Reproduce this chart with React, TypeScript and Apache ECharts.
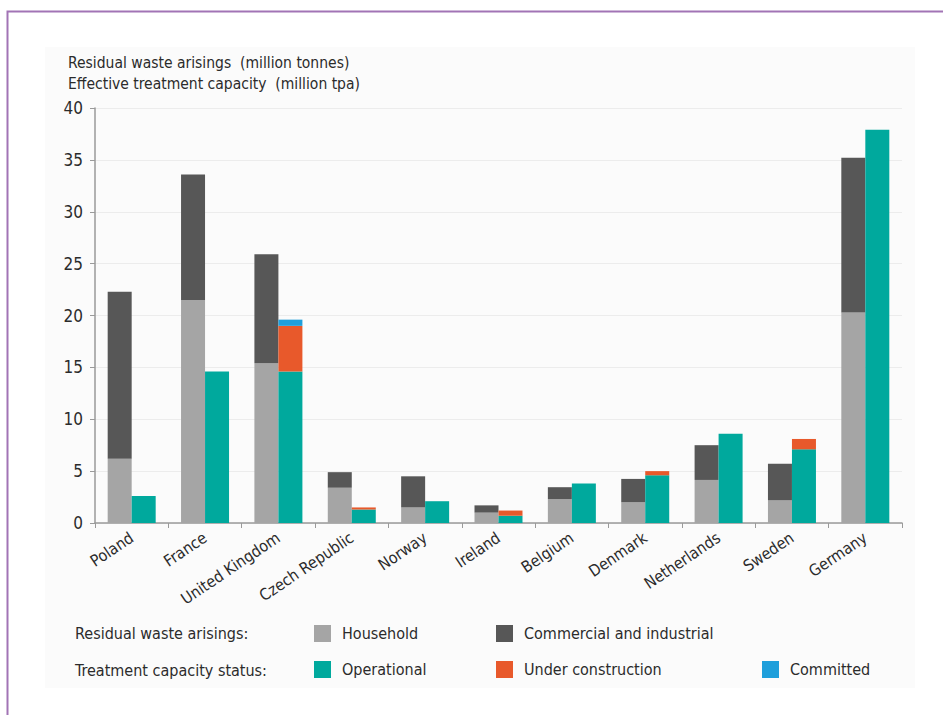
import React, { useEffect, useRef } from "react";
import * as echarts from "echarts";

const categories = ["Poland", "France", "United Kingdom", "Czech Republic", "Norway", "Ireland", "Belgium", "Denmark", "Netherlands", "Sweden", "Germany"];
const household = [6.2, 21.5, 15.4, 3.4, 1.5, 1.0, 2.3, 2.0, 4.15, 2.2, 20.3];
const commercial = [16.1, 12.1, 10.5, 1.5, 3.0, 0.7, 1.15, 2.25, 3.35, 3.5, 14.9];
const operational = [2.6, 14.6, 14.6, 1.3, 2.1, 0.7, 3.8, 4.6, 8.6, 7.1, 37.9];
const underConstruction = [0, 0, 4.4, 0.2, 0, 0.5, 0, 0.4, 0, 1.0, 0];
const committed = [0, 0, 0.6, 0, 0, 0, 0, 0, 0, 0, 0];

const titleLines = ["Residual waste arisings  (million tonnes)", "Effective treatment capacity  (million tpa)"];
const legendRowLabels = ["Residual waste arisings:", "Treatment capacity status:"];

const FONT = "'Liberation Sans Narrow', 'DejaVu Sans Condensed', 'Open Sans', sans-serif";
const TXT = "#2b2b2b";
const C_HOUSE = "#a5a5a5";
const C_COMM = "#575757";
const C_OPER = "#00a99d";
const C_UC = "#e8592b";
const C_COMMIT = "#1f9fdb";

export default function App() {
  const ref = useRef<HTMLDivElement>(null);
  useEffect(() => {
    if (!ref.current) return;
    const chart = echarts.init(ref.current, null, { renderer: "svg" });
    const mkLegend = (name: string, left: number, top: number) => ({
      data: [name],
      left,
      top,
      orient: "horizontal",
      padding: 0,
      itemWidth: 17,
      itemHeight: 17,
      icon: "rect",
      selectedMode: false,
      textStyle: { fontSize: 16, fontFamily: FONT, color: TXT, padding: [0, 0, 0, 6] },
    });
    const bar = (name: string, data: number[], stack: string, color: string) => ({
      name,
      type: "bar",
      stack,
      data,
      barWidth: 24,
      barGap: "0%",
      itemStyle: { color },
      emphasis: { disabled: true },
    });
    chart.setOption({
      animation: false,
      grid: { left: 95, right: 41, top: 108, bottom: 192, containLabel: false },
      graphic: [
        { type: "rect", z: -10, shape: { x: 45, y: 47, width: 870, height: 641 }, style: { fill: "#fbfbfb" } },
        { type: "rect", z: -5, shape: { x: 7.5, y: 11.5, width: 1000, height: 800 }, style: { fill: "none", stroke: "#a274b5", lineWidth: 2 } },
        { type: "text", x: 68, y: 63, style: { text: titleLines[0], fontSize: 15.5, fontFamily: FONT, fill: TXT, textVerticalAlign: "middle" } },
        { type: "text", x: 68, y: 84, style: { text: titleLines[1], fontSize: 15.5, fontFamily: FONT, fill: TXT, textVerticalAlign: "middle" } },
        { type: "text", x: 75, y: 633, style: { text: legendRowLabels[0], fontSize: 16, fontFamily: FONT, fill: TXT, textVerticalAlign: "middle" } },
        { type: "text", x: 75, y: 670, style: { text: legendRowLabels[1], fontSize: 16, fontFamily: FONT, fill: TXT, textVerticalAlign: "middle" } },
      ],
      legend: [
        mkLegend("Household", 314, 625),
        mkLegend("Commercial and industrial", 496, 625),
        mkLegend("Operational", 314, 661),
        mkLegend("Under construction", 496, 661),
        mkLegend("Committed", 762, 661),
      ],
      xAxis: {
        type: "category",
        data: categories,
        axisLine: { lineStyle: { color: "#9a9a9a", width: 1.5 } },
        axisTick: { show: true, length: 5, lineStyle: { color: "#9a9a9a" } },
        axisLabel: { rotate: 34, fontSize: 16, fontFamily: FONT, color: TXT, margin: 13 },
      },
      yAxis: {
        type: "value",
        min: 0,
        max: 40,
        interval: 5,
        axisLine: { show: true, lineStyle: { color: "#9a9a9a", width: 1.5 } },
        axisTick: { show: true, length: 5, lineStyle: { color: "#9a9a9a" } },
        axisLabel: { fontSize: 17, fontFamily: FONT, color: TXT, margin: 12 },
        splitLine: { show: true, lineStyle: { color: "#ececec", width: 1 } },
      },
      series: [
        bar("Household", household, "waste", C_HOUSE),
        bar("Commercial and industrial", commercial, "waste", C_COMM),
        bar("Operational", operational, "cap", C_OPER),
        bar("Under construction", underConstruction, "cap", C_UC),
        bar("Committed", committed, "cap", C_COMMIT),
      ],
    });
    return () => chart.dispose();
  }, []);
  return <div ref={ref} style={{ position: "absolute", left: 0, top: 0, width: 943, height: 715 }} />;
}
